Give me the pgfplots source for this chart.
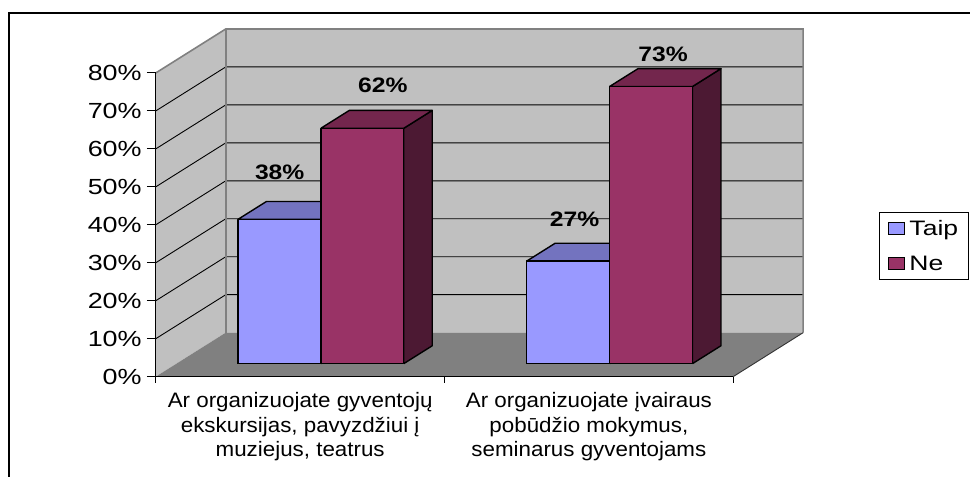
\documentclass[border=0pt]{standalone}
\usepackage{pgfplots}
\pgfplotsset{compat=1.18}
\usepackage{fontspec}
\setmainfont{Liberation Sans}
\newfontfamily\tickf[FakeStretch=1.23]{Liberation Sans}
\newfontfamily\labf[FakeStretch=1.18]{Liberation Sans}
\newfontfamily\catf[FakeStretch=1.07]{Liberation Sans}
\newfontfamily\legf[FakeStretch=1.27]{Liberation Sans}
\definecolor{taip}{HTML}{9999FF}
\definecolor{taiptop}{HTML}{7373BF}
\definecolor{taipside}{HTML}{4C4C80}
\definecolor{ne}{HTML}{993366}
\definecolor{netop}{HTML}{73264D}
\definecolor{neside}{HTML}{4C1933}
\definecolor{wall}{HTML}{C0C0C0}
\definecolor{floorc}{HTML}{808080}
\definecolor{edgec}{HTML}{808080}
\pgfplotsset{barface/.style={draw=black, line width=1.4bp, line join=round, forget plot}}
% #1 front-left x, #2 value (%), #3 front, #4 top, #5 side colour
\newcommand{\barthreed}[5]{%
  \pgfmathsetmacro{\bxa}{#1}%
  \pgfmathsetmacro{\bxb}{#1+83}%
  \pgfmathsetmacro{\bxc}{#1+83+28.5}%
  \pgfmathsetmacro{\bxd}{#1+28.5}%
  \pgfmathsetmacro{\bya}{3.42}%
  \pgfmathsetmacro{\byb}{3.42+#2}%
  \pgfmathsetmacro{\byc}{3.42+#2+4.71}%
  \pgfmathsetmacro{\byd}{3.42+4.71}%
  \edef\btmp{%
    \noexpand\addplot[barface, fill=#5] coordinates {(\bxb,\bya) (\bxc,\byd) (\bxc,\byc) (\bxb,\byb) (\bxb,\bya)};
    \noexpand\addplot[barface, fill=#4] coordinates {(\bxa,\byb) (\bxb,\byb) (\bxc,\byc) (\bxd,\byc) (\bxa,\byb)};
    \noexpand\addplot[barface, fill=#3] coordinates {(\bxa,\bya) (\bxb,\bya) (\bxb,\byb) (\bxa,\byb) (\bxa,\bya)};
  }%
  \btmp}
\begin{document}
\begin{tikzpicture}
\begin{axis}[
  scale only axis, width=578bp, height=304bp,
  xmin=0, xmax=578, ymin=0, ymax=80,
  enlargelimits=false, clip=false, axis on top,
  axis x line*=bottom, axis y line*=left,
  axis line style={black, line width=1.2bp},
  major tick length=0pt,
  ytick={0,10,...,80},
  yticklabel={\pgfmathprintnumber{\tick}\%},
  /pgf/number format/assume math mode=true,
  yticklabel style={font=\tickf\fontsize{22}{24}\selectfont, inner sep=0pt, xshift=-14bp},
  xtick={144.5,433.5},
  xticklabels={{Ar organizuojate gyventojų\\ekskursijas, pavyzdžiui į\\muziejus, teatrus},{Ar organizuojate įvairaus\\pobūdžio mokymus,\\seminarus gyventojams}},
  xticklabel style={font=\catf\fontsize{21}{24.5}\selectfont, align=center, inner sep=0pt, yshift=-16bp},
  legend entries={Taip,Ne},
  legend image code/.code={\draw[#1, draw=black, line width=0.8bp] (0bp,-6bp) rectangle (16bp,6bp);\path (19bp,0bp);},
  legend style={at={(rel axis cs:1.2526,0.5428)}, anchor=north west, draw=black, line width=1bp,
    fill=white, inner xsep=8bp, inner ysep=6bp, font=\legf\fontsize{21}{23}\selectfont,
    row sep=15bp, cells={anchor=west}},
]
\addlegendimage{fill=taip}
\addlegendimage{fill=ne}
% bounding box of the whole picture
\addplot[draw=none, forget plot] coordinates {(-156,-26.316) (815,99.2105)};
% outer frame (left and top)
\addplot[black, line width=2bp, forget plot] coordinates {(-147,-26.316) (-147,95.789) (815,95.789)};
% walls and floor
\addplot[fill=wall, draw=none, forget plot] coordinates {(70,11.579) (648,11.579) (648,91.579) (70,91.579) (70,11.579)};
\addplot[fill=wall, draw=none, forget plot] coordinates {(0,0) (70,11.579) (70,91.579) (0,80) (0,0)};
\addplot[fill=floorc, draw=none, forget plot] coordinates {(0,0) (578,0) (648,11.579) (70,11.579) (0,0)};
% gridlines
\addplot[black, line width=0.9bp, forget plot] coordinates {(0,10) (70,21.579) (648,21.579)};
\addplot[black, line width=0.9bp, forget plot] coordinates {(0,20) (70,31.579) (648,31.579)};
\addplot[black, line width=0.9bp, forget plot] coordinates {(0,30) (70,41.579) (648,41.579)};
\addplot[black, line width=0.9bp, forget plot] coordinates {(0,40) (70,51.579) (648,51.579)};
\addplot[black, line width=0.9bp, forget plot] coordinates {(0,50) (70,61.579) (648,61.579)};
\addplot[black, line width=0.9bp, forget plot] coordinates {(0,60) (70,71.579) (648,71.579)};
\addplot[black, line width=0.9bp, forget plot] coordinates {(0,70) (70,81.579) (648,81.579)};
% wall edges
\addplot[edgec, line width=1.6bp, forget plot] coordinates {(0,80) (70,91.579) (648,91.579) (648,11.579)};
\addplot[edgec, line width=1.6bp, forget plot] coordinates {(70,11.579) (70,91.579)};
\addplot[black!80, line width=0.9bp, forget plot] coordinates {(578,0) (648,11.579)};
% bars: Taip {38, 27}, Ne {62, 73}
\barthreed{82.2}{38}{taip}{taiptop}{taipside}
\barthreed{165.2}{62}{ne}{netop}{neside}
\barthreed{371.2}{27}{taip}{taiptop}{taipside}
\barthreed{454.2}{73}{ne}{netop}{neside}
% data labels
\addplot[only marks, mark=none, forget plot, nodes near coords, point meta=explicit symbolic,
  every node near coord/.append style={anchor=center, inner sep=0pt, font=\labf\bfseries\fontsize{21}{24}\selectfont}]
  coordinates {(124,53.8)[38\%] (227.3,76.8)[62\%] (419.2,41.4)[27\%] (507.7,84.9)[73\%]};
% tick marks
\pgfplotsinvokeforeach{0,10,...,80}{\addplot[black, line width=1.1bp, forget plot] coordinates {(-9,#1) (0,#1)};}
\addplot[black, line width=1.1bp, forget plot] coordinates {(0,0) (0,-1.6)};
\addplot[black, line width=1.1bp, forget plot] coordinates {(289,0) (289,-1.6)};
\addplot[black, line width=1.1bp, forget plot] coordinates {(578,0) (578,-1.6)};
\end{axis}
\end{tikzpicture}
\end{document}
